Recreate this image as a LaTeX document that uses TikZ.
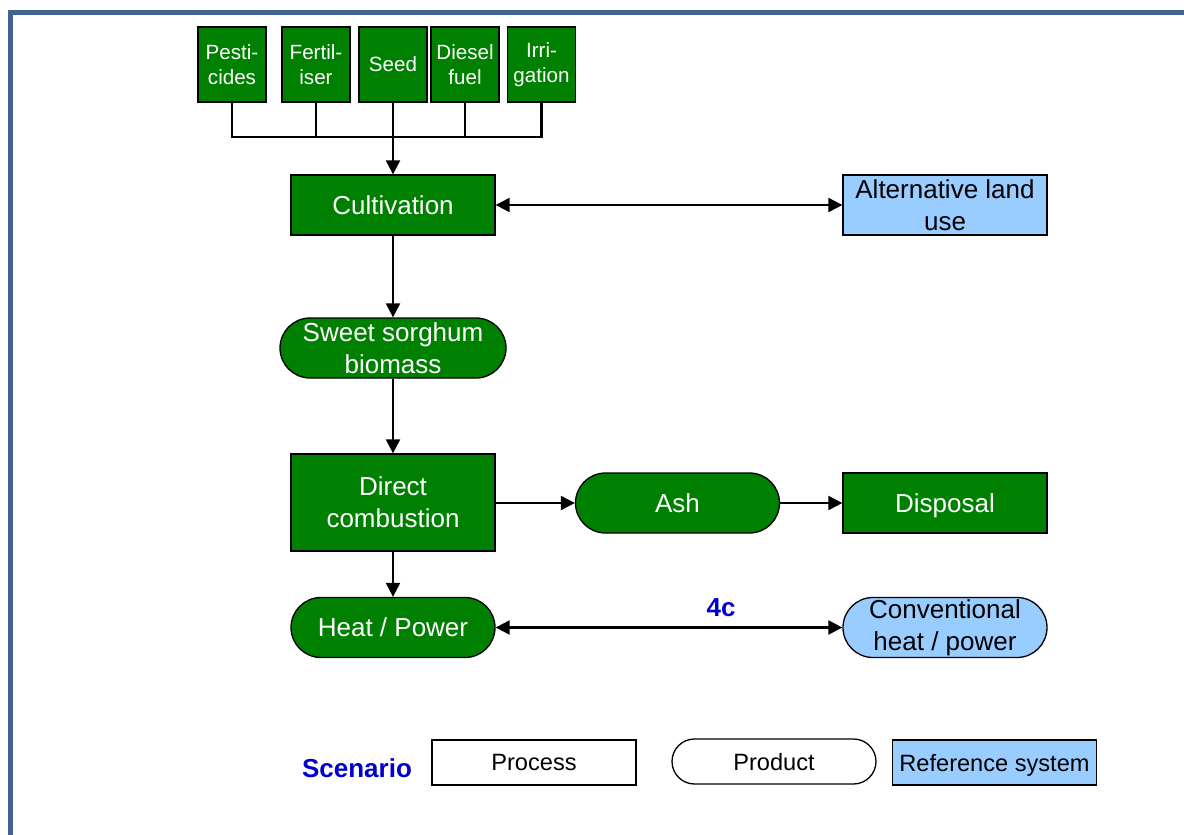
\documentclass[tikz,border=0pt]{standalone}
\usepackage{fontspec}
\setmainfont{Liberation Sans}
\usetikzlibrary{arrows.meta,shapes.misc}
\definecolor{procgreen}{RGB}{0,128,0}
\definecolor{refblue}{RGB}{153,204,255}
\definecolor{framecol}{RGB}{65,101,146}
\definecolor{labelblue}{RGB}{0,0,204}

\begin{document}
\begin{tikzpicture}[x=0.5pt,y=-0.5pt,
  proc/.style={draw=black,line width=0.65pt,fill=procgreen,text=white,align=center,
    inner sep=0pt,font=\fontsize{13}{16}\selectfont},
  prod/.style={proc,rounded rectangle},
  inp/.style={proc,font=\fontsize{10.3}{12.5}\selectfont,minimum width=34pt,minimum height=37.5pt},
  big/.style={minimum width=102pt,minimum height=30pt},
  refsys/.style={fill=refblue,text=black},
  legend/.style={draw=black,line width=0.65pt,fill=white,text=black,inner sep=0pt,
    font=\fontsize{11.8}{14}\selectfont,minimum width=102pt,minimum height=22.5pt,text depth=0pt},
  tip/.tip={Triangle[length=7pt,width=7pt]},
  flow/.style={line width=1.1pt,-tip},
  both/.style={line width=1.1pt,tip-tip},
  bus/.style={line width=1.1pt},
  tag/.style={text=labelblue,font=\fontsize{13}{16}\selectfont\bfseries,inner sep=0pt}]

\useasboundingbox (0,0) rectangle (1184,835);

% frame
\draw[framecol,line width=2.3pt] (10.5,835) -- (10.5,12.5) -- (1184,12.5);

% inputs
\node[inp] (pest) at (232,64.5) {Pesti-\\cides};
\node[inp] (fert) at (316,64.5) {Fertil-\\iser};
\node[inp] (seed) at (393,64.5) {Seed};
\node[inp] (dies) at (465,64.5) {Diesel\\fuel};
\node[inp] (irri) at (541.5,64.5) {Irri-\\gation};
\coordinate (busc) at (393,137);

% main chain
\node[proc,big] (cult) at (393,205) {Cultivation};
\node[proc,big,refsys] (alt) at (945,205) {Alternative land\\use};
\node[prod,minimum width=113pt,minimum height=30pt] (bio) at (393,348) {Sweet sorghum\\biomass};
\node[proc,minimum width=102pt,minimum height=48.5pt] (comb) at (393,502.5) {Direct\\combustion};
\node[prod,big] (ash) at (677.5,503) {Ash};
\node[proc,big,text depth=0pt] (disp) at (945,503) {Disposal};
\node[prod,big] (heat) at (393,627.5) {Heat / Power};
\node[prod,big,refsys] (conv) at (945,627.5) {Conventional\\heat / power};

% input bus
\draw[bus] (pest.south) -- (pest.south |- busc) -- (irri.south |- busc) -- (irri.south);
\draw[bus] (fert.south) -- (fert.south |- busc);
\draw[bus] (dies.south) -- (dies.south |- busc);
\draw[flow] (seed.south) -- (cult.north);

% flows
\draw[both] (cult.east) -- (alt.west);
\draw[flow] (cult.south) -- (bio.north);
\draw[flow] (bio.south) -- (comb.north);
\draw[flow] (comb.east |- ash.west) -- (ash.west);
\draw[flow] (ash.east) -- (disp.west);
\draw[flow] (comb.south) -- (heat.north);
\draw[both] (heat.east) -- (conv.west) node[tag,pos=0.65,above=5pt] (sc) {4c};

% legend
\node[tag] (scen) at (357,768) {Scenario};
\node[legend] (lproc) at (534,762.5) {Process};
\node[legend,rounded rectangle] (lprod) at (774,761.5) {Product};
\node[legend,fill=refblue] (lref) at (994.5,762.5) {Reference system};
\end{tikzpicture}
\end{document}
